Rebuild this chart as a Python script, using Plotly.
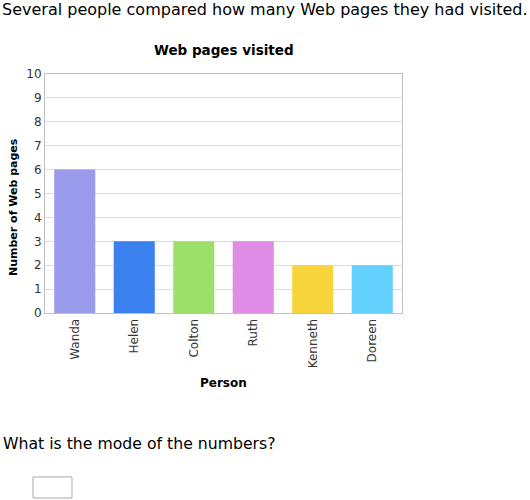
import plotly.graph_objects as go

people = ["Wanda", "Helen", "Colton", "Ruth", "Kenneth", "Doreen"]
pages = [6, 3, 3, 3, 2, 2]
bar_colors = ["#9b9bec", "#3a80ee", "#9ce06a", "#de8ce6", "#f7d33c", "#62cffc"]
y_ticks = list(range(0, 11))

font = "DejaVu Sans, Verdana, sans-serif"

fig = go.Figure(go.Bar(
    x=people,
    y=pages,
    marker=dict(color=bar_colors, line=dict(width=0)),
    width=0.69,
    hoverinfo="x+y",
))

fig.update_layout(
    width=530,
    height=500,
    margin=dict(l=45, r=128, t=74, b=187, autoexpand=False),
    plot_bgcolor="white",
    paper_bgcolor="white",
    font=dict(family=font, size=12, color="#333333"),
    showlegend=False,
)

fig.update_xaxes(
    tickangle=-90,
    showline=True, linecolor="#c0c0c0", mirror=True,
    ticks="", tickfont=dict(size=12, color="#333333"),
)
fig.update_yaxes(
    range=[0, 10],
    tickvals=y_ticks,
    showline=True, linecolor="#c0c0c0", mirror=True,
    showgrid=True, gridcolor="#dddddd", zeroline=False,
    ticks="", tickfont=dict(size=12, color="#333333"),
)

# axis titles as annotations so they sit at fixed spots
fig.add_annotation(text="<b>Person</b>", xref="paper", yref="paper",
                   x=0.5, y=-0.293, yanchor="middle", showarrow=False,
                   font=dict(size=12, color="#000000"))
fig.add_annotation(text="<b>Number of Web pages</b>", xref="paper", yref="paper",
                   x=-0.0896, y=0.4435, textangle=-90, xanchor="center",
                   yanchor="middle", showarrow=False,
                   font=dict(size=11, color="#000000"))

# chart title and surrounding question text
fig.add_annotation(text="<b>Web pages visited</b>", xref="paper", yref="paper",
                   x=0.5, y=1.10, yanchor="middle", showarrow=False,
                   font=dict(size=13.5, color="#000000"))
fig.add_annotation(text="Several people compared how many Web pages they had visited.",
                   xref="paper", yref="paper", x=-0.126, y=1.268,
                   xanchor="left", yanchor="middle", showarrow=False,
                   font=dict(size=16, color="#000000"))
fig.add_annotation(text="What is the mode of the numbers?",
                   xref="paper", yref="paper", x=-0.123, y=-0.544,
                   xanchor="left", yanchor="middle", showarrow=False,
                   font=dict(size=15.7, color="#000000"))

# answer box
fig.add_shape(type="rect", xref="paper", yref="paper",
              x0=-0.0336, x1=0.0756, y0=-0.774, y1=-0.686,
              line=dict(color="#aaaaaa", width=1), fillcolor="white")

fig.write_html("out.html", config={"displayModeBar": False},
               post_script="document.body.style.margin='0';")
